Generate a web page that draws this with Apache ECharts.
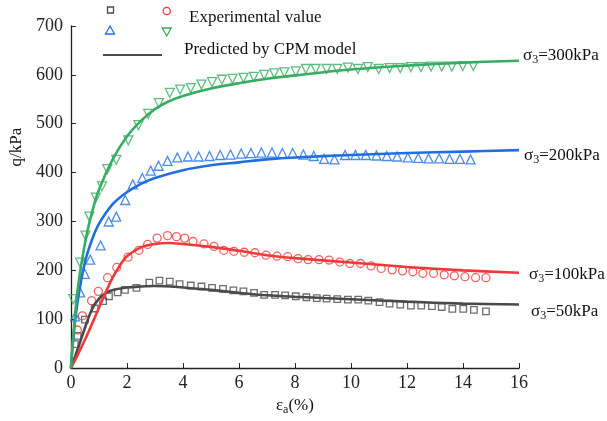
<!DOCTYPE html>
<html>
<head>
<meta charset="utf-8">
<script src="https://cdn.jsdelivr.net/npm/echarts@6/dist/echarts.min.js"></script>
<style>html,body{margin:0;padding:0;background:#fff}#c{width:607px;height:421px}</style>
</head>
<body>
<div id="c"></div>
<script>
// Experimental values [strain %, q kPa]
var exp50 = [[0.14,49],[0.24,66],[0.50,99],[0.85,122],[1.15,137],[1.36,147],[1.67,155],[1.93,160],[2.34,164],[2.80,175],[3.16,179],[3.53,177],[3.88,172],[4.28,169],[4.66,167],[5.04,164],[5.43,162],[5.80,159],[6.16,157],[6.54,154],[6.90,150],[7.29,150],[7.65,149],[8.03,147],[8.41,145],[8.78,143],[9.13,142],[9.51,141],[9.89,140],[10.26,140],[10.62,138],[11.02,135],[11.38,132],[11.76,130],[12.14,128],[12.51,128],[12.89,127],[13.24,125],[13.62,121],[14.01,121],[14.39,119],[14.82,116]];
var exp100 = [[0.23,78],[0.41,107],[0.74,138],[0.98,157],[1.31,185],[1.64,206],[2.04,227],[2.43,241],[2.74,253],[3.08,266],[3.45,271],[3.77,269],[4.06,266],[4.36,259],[4.75,254],[5.11,249],[5.46,241],[5.82,239],[6.19,237],[6.57,236],[6.97,231],[7.36,229],[7.74,228],[8.11,224],[8.47,222],[8.86,222],[9.22,221],[9.60,217],[9.96,214],[10.34,214],[10.72,209],[11.08,204],[11.47,201],[11.84,199],[12.21,197],[12.57,194],[12.95,194],[13.33,191],[13.69,189],[14.07,187],[14.45,185],[14.82,185]];
var exp200 = [[0.15,106],[0.33,155],[0.49,193],[0.69,222],[1.06,251],[1.35,300],[1.62,310],[1.94,344],[2.21,376],[2.55,389],[2.85,404],[3.13,414],[3.45,424],[3.80,431],[4.18,433],[4.56,433],[4.95,434],[5.33,436],[5.70,437],[6.08,439],[6.43,440],[6.80,441],[7.18,441],[7.55,440],[7.92,440],[8.30,437],[8.67,434],[9.04,428],[9.41,427],[9.79,436],[10.16,436],[10.53,436],[10.91,435],[11.28,434],[11.65,433],[12.03,431],[12.40,430],[12.77,429],[13.15,429],[13.52,428],[13.89,428],[14.27,427]];
var exp300 = [[0.08,141],[0.33,216],[0.52,271],[0.66,310],[0.89,349],[1.11,372],[1.30,407],[1.62,426],[2.05,466],[2.41,497],[2.76,520],[3.14,542],[3.53,563],[3.90,570],[4.28,573],[4.66,580],[5.04,585],[5.39,590],[5.77,592],[6.16,594],[6.53,596],[6.90,600],[7.26,603],[7.62,605],[8.03,607],[8.39,612],[8.74,612],[9.13,612],[9.51,612],[9.89,615],[10.25,612],[10.60,616],[10.99,612],[11.38,614],[11.76,614],[12.14,616],[12.50,616],[12.86,617],[13.24,617],[13.60,617],[13.99,618],[14.37,618]];
// CPM model predictions
var cpm50 = [[0,0],[0.25,40],[0.5,82],[0.75,120],[1,142],[1.25,154],[1.5,160],[2,165],[2.5,167],[3,168],[4,165],[5,160],[6,154],[7,149],[8,146],[10,141],[12,136],[14,132],[16,130]];
var cpm100 = [[0,0],[0.25,28],[0.5,58],[0.75,90],[1,123],[1.25,156],[1.5,186],[1.75,210],[2,229],[2.5,247],[3,254],[3.5,256],[4,254],[5,248],[6,240],[7,231],[8,225],[10,216],[12,207],[14,200],[16,195]];
var cpm200 = [[0,0],[0.1,70],[0.25,140],[0.5,216],[0.75,262],[1,295],[1.5,336],[2,360],[2.5,377],[3,389],[4,405],[5,415],[6,421],[7,427],[8,431],[10,436],[12,440],[14,443],[16,446]];
var cpm300 = [[0,0],[0.1,75],[0.25,165],[0.5,255],[0.75,318],[1,365],[1.5,428],[2,474],[2.5,506],[3,530],[3.5,546],[4,557],[5,572],[6,583],[7,592],[8,599],[10,611],[12,619],[14,625],[16,629]];
var xTicks = [0,2,4,6,8,10,12,14,16];
var yTicks = [0,100,200,300,400,500,600,700];
var labels = {cpm50:'50', cpm100:'100', cpm200:'200', cpm300:'300'};

var FONT = 'Liberation Serif';
var C50 = '#4a4a4a', C100 = '#f03a3a', C200 = '#1f6fe0', C300 = '#36ad62';

function scat(name, data, sym, size, color, rot) {
  return {type:'scatter', name:name, data:data, symbol:sym, symbolSize:size, symbolRotate:rot||0,
    itemStyle:{color:'rgba(0,0,0,0)', borderColor:color, borderWidth:1.3}, z:2, silent:true};
}
function line(name, data, color, off) {
  return {type:'line', name:name, data:data, smooth:0.35, showSymbol:false, symbol:'none',
    lineStyle:{color:color, width:2.6}, z:3, silent:true,
    endLabel:{show:true, distance:2, offset:off, color:'#111', fontFamily:FONT, fontSize:17,
      formatter:function(){return '\u03c3{s|3}=' + labels[name] + 'kPa';},
      rich:{s:{fontSize:12, fontFamily:FONT, color:'#111', padding:[9,0,0,0]}}}};
}

var chart = echarts.init(document.getElementById('c'), null, {renderer:'canvas'});
chart.setOption({
  animation:false,
  grid:{left:69, right:88, top:26, bottom:48},
  xAxis:{type:'value', min:0, max:16, interval:2,
    name:'\u03b5{s|a}(%)', nameLocation:'middle', nameGap:25,
    nameTextStyle:{fontFamily:FONT, fontSize:17, color:'#111', rich:{s:{fontSize:12,fontFamily:FONT,color:'#111',padding:[9,0,0,0]}}},
    axisLine:{lineStyle:{color:'#222', width:1.3}},
    axisTick:{inside:true, length:5, lineStyle:{color:'#222'}},
    axisLabel:{fontFamily:FONT, fontSize:18, color:'#222', margin:6,
      formatter:function(v){return xTicks.indexOf(v)>=0? String(v):'';}},
    splitLine:{show:false}},
  yAxis:{type:'value', min:0, max:700, interval:100,
    name:'q/kPa', nameLocation:'middle', nameGap:38, nameRotate:90,
    nameTextStyle:{fontFamily:FONT, fontSize:17, color:'#111', padding:[0,0,0,100]},
    axisLine:{show:true, lineStyle:{color:'#222', width:1.3}},
    axisTick:{show:true, inside:true, length:5, lineStyle:{color:'#222'}},
    axisLabel:{fontFamily:FONT, fontSize:18, color:'#222', margin:8,
      formatter:function(v){return yTicks.indexOf(v)>=0? String(v):'';}},
    splitLine:{show:false}},
  series:[
    scat('exp50', exp50, 'rect', 6.5, C50),
    scat('exp100', exp100, 'circle', 8, C100),
    scat('exp200', exp200, 'triangle', 9, C200),
    scat('exp300', exp300, 'triangle', 9, C300, 180),
    line('cpm50', cpm50, C50, [10,7]),
    line('cpm100', cpm100, C100, [8,2]),
    line('cpm200', cpm200, C200, [3,5]),
    line('cpm300', cpm300, C300, [2,-5])
  ],
  graphic:[
    {type:'rect', shape:{x:107.5,y:7,width:6,height:6}, style:{fill:'none', stroke:C50, lineWidth:1.3}},
    {type:'circle', shape:{cx:166.7,cy:11,r:3.6}, style:{fill:'none', stroke:C100, lineWidth:1.3}},
    {type:'polygon', shape:{points:[[110,26],[114.5,34],[105.5,34]]}, style:{fill:'none', stroke:C200, lineWidth:1.3}},
    {type:'polygon', shape:{points:[[166.7,36],[171.2,28],[162.2,28]]}, style:{fill:'none', stroke:C300, lineWidth:1.3}},
    {type:'text', left:189, top:9, style:{text:'Experimental value', fontFamily:FONT, fontSize:17, fill:'#111'}},
    {type:'line', shape:{x1:103,y1:55,x2:162,y2:55}, style:{stroke:'#111', lineWidth:1.5}},
    {type:'text', left:184, top:41, style:{text:'Predicted by CPM model', fontFamily:FONT, fontSize:17, fill:'#111'}}
  ]
});
</script>
</body>
</html>
